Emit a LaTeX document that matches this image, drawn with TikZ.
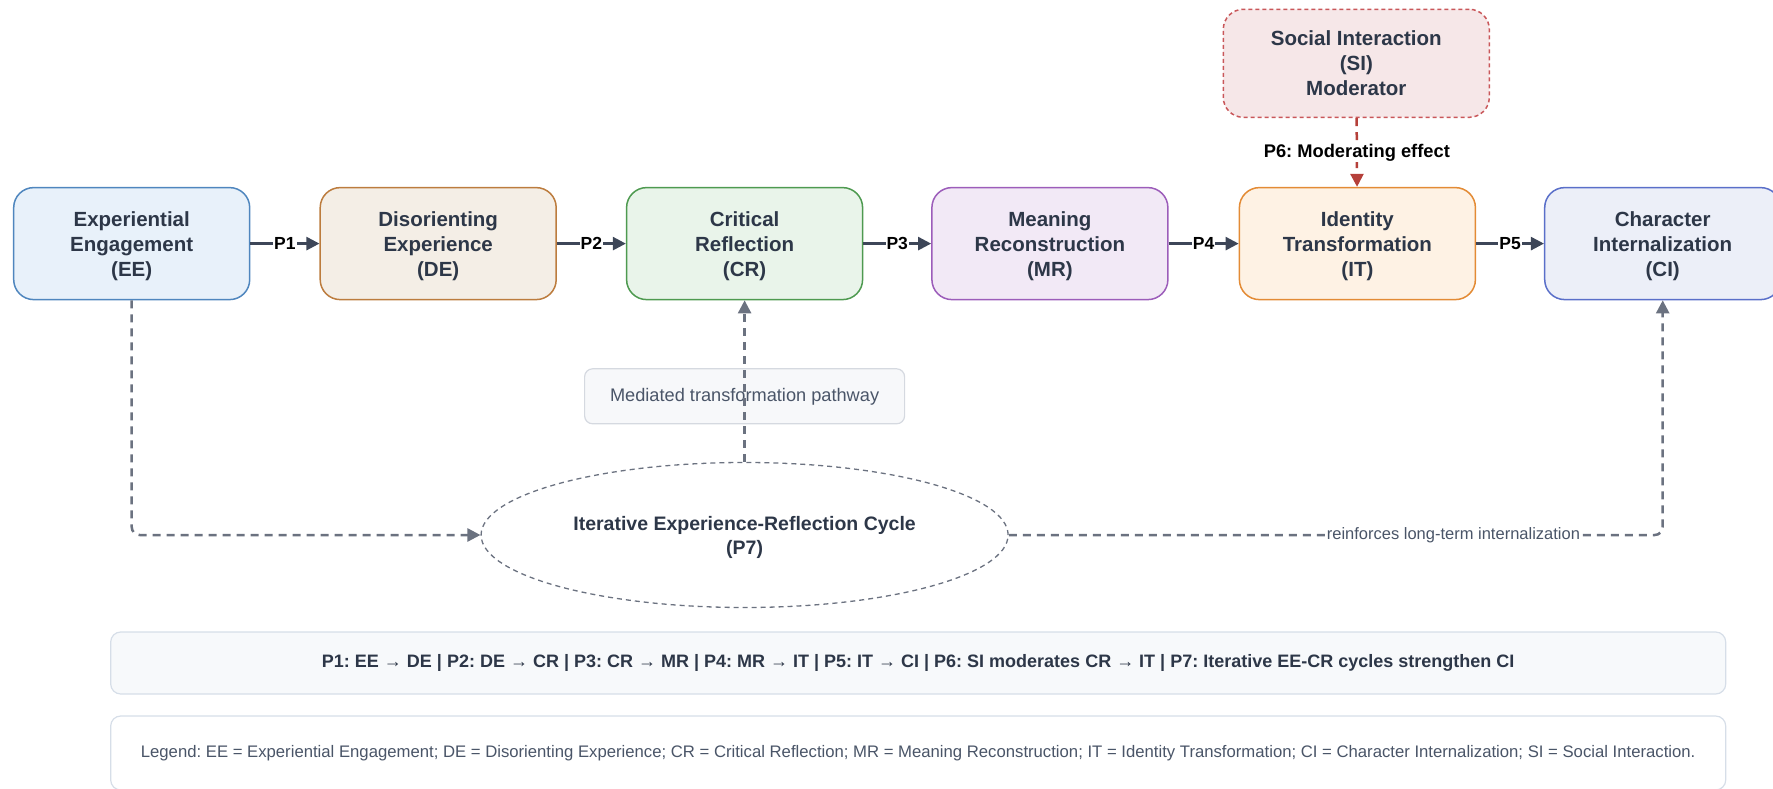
\documentclass[tikz,border=0pt]{standalone}
\usepackage{fontspec}
\setmainfont{Liberation Sans}
\usetikzlibrary{arrows.meta,shapes.geometric}
\frenchspacing

\definecolor{ink}{HTML}{2D3748}
\definecolor{flowc}{HTML}{3D4658}
\definecolor{dashc}{HTML}{6B7280}
\definecolor{softtext}{HTML}{4A5568}
\definecolor{eeFill}{HTML}{E8F1FA}\definecolor{eeLine}{HTML}{4F86BE}
\definecolor{deFill}{HTML}{F4EEE6}\definecolor{deLine}{HTML}{BC7C3E}
\definecolor{crFill}{HTML}{E9F4EA}\definecolor{crLine}{HTML}{4E9A50}
\definecolor{mrFill}{HTML}{F2E9F6}\definecolor{mrLine}{HTML}{9C5DBA}
\definecolor{itFill}{HTML}{FEF2E4}\definecolor{itLine}{HTML}{E38B35}
\definecolor{ciFill}{HTML}{ECEFF8}\definecolor{ciLine}{HTML}{5A6FC9}
\definecolor{siFill}{HTML}{F6E7E8}\definecolor{siLine}{HTML}{C9575A}
\definecolor{siArrow}{HTML}{B5403A}
\definecolor{medFill}{HTML}{F7F8FA}\definecolor{medLine}{HTML}{D5D9E0}
\definecolor{propFill}{HTML}{F7F9FB}\definecolor{propLine}{HTML}{D6DEE8}

\tikzset{
  stage/.style={rectangle, rounded corners=20pt, minimum width=236pt,
    minimum height=112pt, align=center, inner sep=0pt, line width=1.5pt,
    text depth=0pt, text=ink, font=\bfseries\fontsize{20.5}{25}\selectfont},
  flow/.style={draw=flowc, line width=2.5pt,
    -{Triangle[length=13pt,width=13pt]}},
  plabel/.style={fill=white, inner sep=1pt, text=black,
    font=\bfseries\fontsize{17.5}{20}\selectfont},
  dflow/.style={draw=dashc, line width=2.5pt, dash pattern=on 8pt off 6pt,
    -{Triangle[length=13pt,width=13pt]}},
  sibox/.style={rectangle, rounded corners=20pt, minimum width=266pt,
    minimum height=108pt, align=center, inner sep=0pt, line width=1.5pt,
    dash pattern=on 4pt off 3pt, draw=siLine, fill=siFill, text=ink,
    font=\bfseries\fontsize{20.5}{25}\selectfont},
  medbox/.style={rectangle, rounded corners=8pt, minimum width=320pt,
    minimum height=55pt, inner sep=0pt, line width=1.2pt, draw=medLine,
    fill=medFill, text=softtext, font=\fontsize{18.2}{21}\selectfont},
  cyclenode/.style={ellipse, minimum width=527pt, minimum height=145pt,
    inner sep=0pt, align=center, draw=dashc, line width=1.3pt,
    dash pattern=on 5pt off 4pt, text depth=0pt, text=ink,
    font=\bfseries\fontsize{19.5}{24}\selectfont},
  infobox/.style={rectangle, rounded corners=10pt, minimum width=1615pt,
    inner sep=0pt, line width=1.2pt, draw=propLine}
}

\begin{document}
\begin{tikzpicture}[x=1pt,y=-1pt]
\useasboundingbox (0,0) rectangle (1773,789);
\clip (0,0) rectangle (1773,789);

% main chain of stages
\node[stage, fill=eeFill, draw=eeLine] (EE) at (131.7,243.6) {Experiential\\Engagement\\(EE)};
\node[stage, fill=deFill, draw=deLine] (DE) at (438.2,243.6) {Disorienting\\Experience\\(DE)};
\node[stage, fill=crFill, draw=crLine] (CR) at (744.6,243.6) {Critical\\Reflection\\(CR)};
\node[stage, fill=mrFill, draw=mrLine] (MR) at (1049.9,243.6) {Meaning\\Reconstruction\\(MR)};
\node[stage, fill=itFill, draw=itLine] (IT) at (1357.4,243.6) {Identity\\Transformation\\(IT)};
\node[stage, fill=ciFill, draw=ciLine] (CI) at (1662.7,243.6) {Character\\Internalization\\(CI)};

\draw[flow] (EE) -- node[plabel] {P1} (DE);
\draw[flow] (DE) -- node[plabel] {P2} (CR);
\draw[flow] (CR) -- node[plabel] {P3} (MR);
\draw[flow] (MR) -- node[plabel] {P4} (IT);
\draw[flow] (IT) -- node[plabel] {P5} (CI);

% moderator
\node[sibox] (SI) at (1356.3,63.3) {Social Interaction\\(SI)\\Moderator};
\draw[draw=siArrow, line width=2.5pt, dash pattern=on 8pt off 6pt,
      -{Triangle[length=13pt,width=13pt]}]
  (SI) -- node[plabel, font=\bfseries\fontsize{18.3}{20}\selectfont] {P6: Moderating effect} (IT);

% iterative cycle and its links
\node[medbox] (MED) at (744.6,396.3) {Mediated transformation pathway};
\node[cyclenode] (CYC) at (744.6,535) {Iterative Experience-Reflection Cycle\\(P7)};

\draw[dflow] (CYC.north) -- (CR.south);
\draw[dflow, rounded corners=8pt] (EE.south) |- (CYC.west);
\draw[dflow, rounded corners=8pt] (CYC.east) -|
  node[pos=0.34, fill=white, inner sep=1pt, text=softtext,
       font=\fontsize{16.5}{19}\selectfont] {reinforces long-term internalization}
  (CI.south);

% summary and legend
\node[infobox, fill=propFill, minimum height=62pt, text=ink,
      font=\bfseries\fontsize{18}{21}\selectfont] (PROP) at (918.2,663)
  {P1: EE → DE | P2: DE → CR | P3: CR → MR | P4: MR → IT | P5: IT → CI | P6: SI moderates CR → IT | P7: Iterative EE-CR cycles strengthen CI};
\node[infobox, fill=white, minimum height=74pt, text=softtext,
      font=\fontsize{16.7}{19}\selectfont] (LEG) at (918.2,753)
  {Legend: EE = Experiential Engagement; DE = Disorienting Experience; CR = Critical Reflection; MR = Meaning Reconstruction; IT = Identity Transformation; CI = Character Internalization; SI = Social Interaction.};
\end{tikzpicture}
\end{document}
